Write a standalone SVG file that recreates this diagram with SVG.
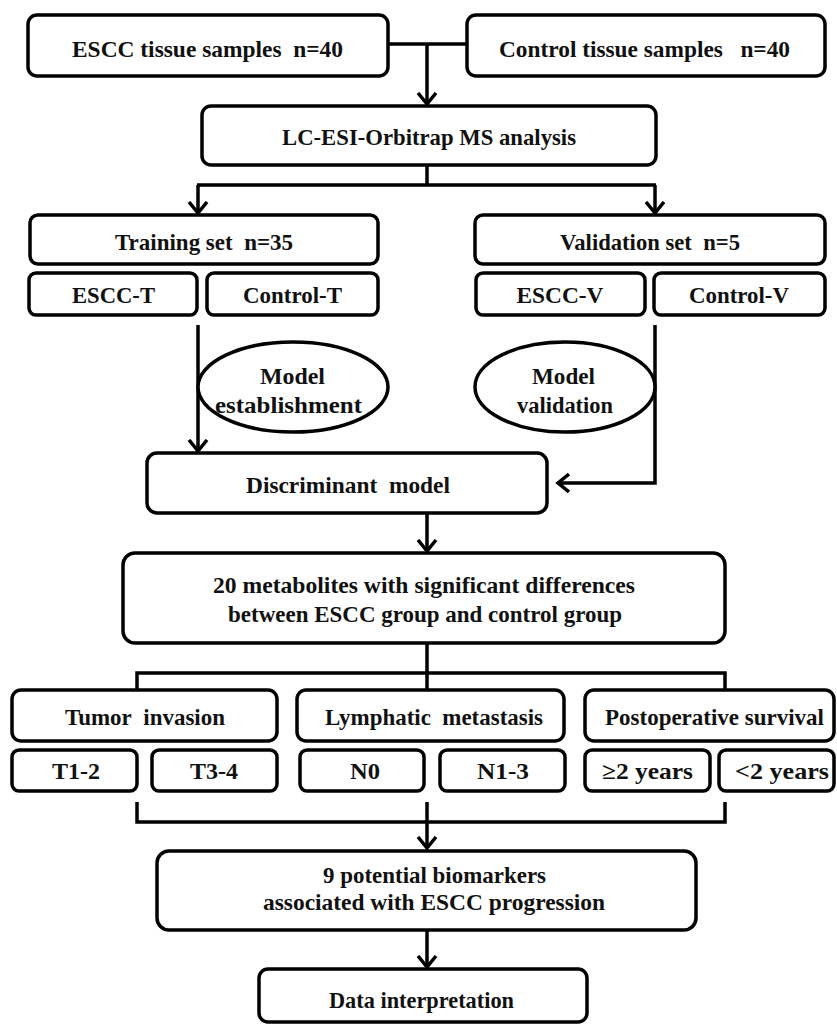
<svg xmlns="http://www.w3.org/2000/svg" width="837" height="1026" viewBox="0 0 837 1026">
<style>
.b{fill:#fff;stroke:#000;stroke-width:3.5}
.t{font-family:"Liberation Serif","Times New Roman",serif;font-weight:bold;font-size:23px;fill:#111;text-anchor:middle}
.c{fill:none;stroke:#000;stroke-width:3.5}
</style>
<defs>
<marker id="ah" markerUnits="userSpaceOnUse" markerWidth="24" markerHeight="24" refX="12" refY="12" orient="auto" viewBox="0 0 24 24">
<path d="M1,3 L12,12 L1,21" fill="none" stroke="#000" stroke-width="3.5"/>
</marker>
</defs>
<rect width="837" height="1026" fill="#fff"/>
<g id="connectors">
<path class="c" d="M388,44 H467"/>
<path class="c" d="M427,44 V104" marker-end="url(#ah)"/>
<path class="c" d="M427,165 V185 M197,185 H656"/>
<path class="c" d="M198,185 V213" marker-end="url(#ah)"/>
<path class="c" d="M655,185 V213" marker-end="url(#ah)"/>
<path class="c" d="M198,325 V451" marker-end="url(#ah)"/>
<path class="c" d="M655,325 V483 H558" marker-end="url(#ah)"/>
<path class="c" d="M427,513 V551" marker-end="url(#ah)"/>
<path class="c" d="M427,643 V690 M137,690 V673 H725 V690"/>
<path class="c" d="M137,802 V822 H725 V802 M427,802 V848" marker-end="url(#ah)"/>
<path class="c" d="M427,930 V967" marker-end="url(#ah)"/>
</g>
<g id="escc-samples"><rect class="b" x="28" y="15" width="360" height="61" rx="9"/><text class="t" x="207.5" y="57" textLength="271" lengthAdjust="spacingAndGlyphs">ESCC tissue samples&#160; n=40</text></g>
<g id="control-samples"><rect class="b" x="467" y="15" width="358" height="61" rx="9"/><text class="t" x="644.5" y="57" textLength="291" lengthAdjust="spacingAndGlyphs">Control tissue samples&#160;&#160; n=40</text></g>
<g id="lcms"><rect class="b" x="202" y="106" width="454" height="59" rx="9"/><text class="t" x="429" y="145" textLength="294" lengthAdjust="spacingAndGlyphs">LC-ESI-Orbitrap MS analysis</text></g>
<g id="training"><rect class="b" x="30" y="215" width="348" height="49" rx="8"/><text class="t" x="204" y="250" textLength="178" lengthAdjust="spacingAndGlyphs">Training set&#160; n=35</text></g>
<g id="validation"><rect class="b" x="475" y="215" width="350" height="49" rx="8"/><text class="t" x="650" y="250" textLength="180" lengthAdjust="spacingAndGlyphs">Validation set&#160; n=5</text></g>
<g id="escc-t"><rect class="b" x="29" y="273" width="168" height="42" rx="7"/><text class="t" x="113.5" y="303" textLength="83" lengthAdjust="spacingAndGlyphs">ESCC-T</text></g>
<g id="control-t"><rect class="b" x="207" y="273" width="171" height="42" rx="7"/><text class="t" x="292.5" y="303" textLength="99" lengthAdjust="spacingAndGlyphs">Control-T</text></g>
<g id="escc-v"><rect class="b" x="476" y="273" width="169" height="42" rx="7"/><text class="t" x="560" y="303" textLength="87" lengthAdjust="spacingAndGlyphs">ESCC-V</text></g>
<g id="control-v"><rect class="b" x="654" y="273" width="171" height="42" rx="7"/><text class="t" x="739" y="303" textLength="100" lengthAdjust="spacingAndGlyphs">Control-V</text></g>
<g id="model-establishment"><ellipse class="b" cx="293" cy="387" rx="95" ry="45"/><text class="t" x="292.5" y="384" textLength="65" lengthAdjust="spacingAndGlyphs">Model</text><text class="t" x="288.5" y="413" textLength="147" lengthAdjust="spacingAndGlyphs">establishment</text></g>
<g id="model-validation"><ellipse class="b" cx="565" cy="387" rx="90" ry="45"/><text class="t" x="563.5" y="384" textLength="63" lengthAdjust="spacingAndGlyphs">Model</text><text class="t" x="565" y="413" textLength="96" lengthAdjust="spacingAndGlyphs">validation</text></g>
<g id="discriminant"><rect class="b" x="147" y="453" width="400" height="60" rx="10"/><text class="t" x="348" y="493" textLength="204" lengthAdjust="spacingAndGlyphs">Discriminant&#160; model</text></g>
<g id="metabolites"><rect class="b" x="123" y="553" width="602" height="90" rx="12"/><text class="t" x="424" y="593" textLength="422" lengthAdjust="spacingAndGlyphs">20 metabolites with significant differences</text><text class="t" x="425" y="622" textLength="394" lengthAdjust="spacingAndGlyphs">between ESCC group and control group</text></g>
<g id="tumor-invasion"><rect class="b" x="12" y="690" width="265" height="51" rx="9"/><text class="t" x="145" y="725" textLength="160" lengthAdjust="spacingAndGlyphs">Tumor&#160; invasion</text></g>
<g id="lymphatic"><rect class="b" x="297" y="690" width="267" height="51" rx="9"/><text class="t" x="434" y="725" textLength="218" lengthAdjust="spacingAndGlyphs">Lymphatic&#160; metastasis</text></g>
<g id="survival"><rect class="b" x="585" y="690" width="249" height="51" rx="9"/><text class="t" x="714.5" y="725" textLength="219" lengthAdjust="spacingAndGlyphs">Postoperative survival</text></g>
<g id="t12"><rect class="b" x="12" y="750" width="125" height="41" rx="7"/><text class="t" x="76" y="779" textLength="48" lengthAdjust="spacingAndGlyphs">T1-2</text></g>
<g id="t34"><rect class="b" x="152" y="750" width="125" height="41" rx="7"/><text class="t" x="214" y="779" textLength="48" lengthAdjust="spacingAndGlyphs">T3-4</text></g>
<g id="n0"><rect class="b" x="300" y="750" width="124" height="41" rx="7"/><text class="t" x="365" y="779" textLength="30" lengthAdjust="spacingAndGlyphs">N0</text></g>
<g id="n13"><rect class="b" x="440" y="750" width="125" height="41" rx="7"/><text class="t" x="503" y="779" textLength="52" lengthAdjust="spacingAndGlyphs">N1-3</text></g>
<g id="ge2"><rect class="b" x="585" y="750" width="125" height="41" rx="7"/><text class="t" x="647.5" y="779" textLength="91" lengthAdjust="spacingAndGlyphs">≥2 years</text></g>
<g id="lt2"><rect class="b" x="719" y="750" width="115" height="41" rx="7"/><text class="t" x="782" y="779" textLength="94" lengthAdjust="spacingAndGlyphs">&lt;2 years</text></g>
<g id="biomarkers"><rect class="b" x="157" y="851" width="539" height="79" rx="12"/><text class="t" x="434.5" y="883" textLength="223" lengthAdjust="spacingAndGlyphs">9 potential biomarkers</text><text class="t" x="434" y="910" textLength="342" lengthAdjust="spacingAndGlyphs">associated with ESCC progression</text></g>
<g id="interpretation"><rect class="b" x="259" y="969" width="328" height="53" rx="9"/><text class="t" x="421.5" y="1008" textLength="185" lengthAdjust="spacingAndGlyphs">Data interpretation</text></g>
</svg>
